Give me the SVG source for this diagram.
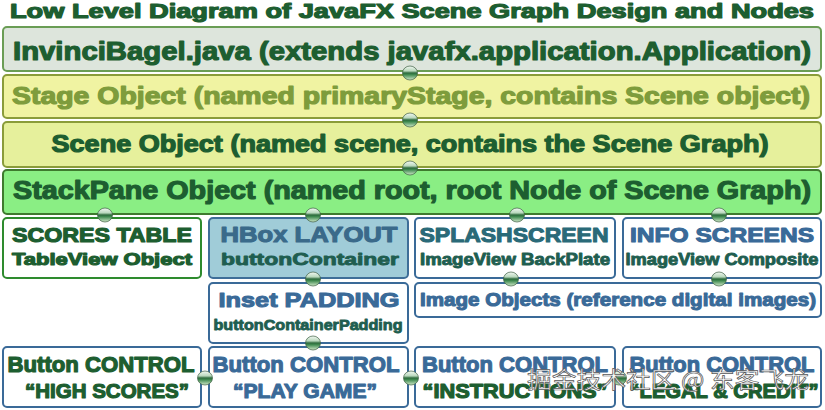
<svg xmlns="http://www.w3.org/2000/svg" width="825" height="410" viewBox="0 0 825 410">
<defs>
<linearGradient id="ball" x1="0" y1="0" x2="0" y2="1">
<stop offset="0" stop-color="#f2f8f2"/>
<stop offset="0.35" stop-color="#b9d8bd"/>
<stop offset="0.5" stop-color="#2d6b3c"/>
<stop offset="0.62" stop-color="#3f8a50"/>
<stop offset="1" stop-color="#cfe8c8"/>
</linearGradient>
<style>
text{font-family:"Liberation Sans",Arial,sans-serif;font-weight:bold;text-anchor:middle;stroke-linejoin:round}
.b{stroke-width:2;rx:4}
.dg{fill:#1d5e30;stroke:#1d5e30;stroke-width:1.2}
.bl{fill:#3a6a98;stroke:#3a6a98;stroke-width:1.1}
.ol{fill:#7e9c3c;stroke:#7e9c3c;stroke-width:1.2}
.tl{fill:#1f5e50;stroke:#1f5e50;stroke-width:0.9}
.wb{fill:#ffffff;stroke:#3a6a98}
.ball{fill:url(#ball);stroke:#3e5e44;stroke-width:0.7}
</style>
</defs>
<rect width="825" height="410" fill="#ffffff"/>
<text id="title" x="412" y="18" font-size="20" class="dg" textLength="804" lengthAdjust="spacingAndGlyphs">Low Level Diagram of JavaFX Scene Graph Design and Nodes</text>

<g id="invincibagel">
<rect class="b" x="3" y="27" width="818" height="44" fill="#dde5dc" stroke="#6a9d55"/>
<text x="412" y="60" font-size="26" class="dg" textLength="798" lengthAdjust="spacingAndGlyphs">InvinciBagel.java (extends javafx.application.Application)</text>
</g>
<g id="stage">
<rect class="b" x="3" y="75" width="818" height="43" fill="#f0f3a2" stroke="#8a9c3a"/>
<text x="411" y="104" font-size="24" class="ol" textLength="798" lengthAdjust="spacingAndGlyphs">Stage Object (named primaryStage, contains Scene object)</text>
</g>
<g id="scene">
<rect class="b" x="3" y="122" width="818" height="45" fill="#e6f09c" stroke="#8a9c3a"/>
<text x="410" y="152" font-size="23" class="dg" textLength="717" lengthAdjust="spacingAndGlyphs">Scene Object (named scene, contains the Scene Graph)</text>
</g>
<g id="stackpane">
<rect class="b" x="3" y="170" width="818" height="44" fill="#8aee84" stroke="#3e7a2e"/>
<text x="412" y="199" font-size="25" class="dg" textLength="798" lengthAdjust="spacingAndGlyphs">StackPane Object (named root, root Node of Scene Graph)</text>
</g>

<g id="scorestable">
<rect class="b" x="3" y="218" width="198" height="60" fill="#ffffff" stroke="#2e8b2e"/>
<text x="102" y="242" font-size="20" class="dg" textLength="180" lengthAdjust="spacingAndGlyphs">SCORES TABLE</text>
<text x="102" y="265" font-size="17" class="dg" textLength="180" lengthAdjust="spacingAndGlyphs">TableView Object</text>
</g>
<g id="hbox">
<rect class="b" x="209" y="218" width="199" height="60" fill="#a0ccd8" stroke="#3e6e98"/>
<text x="309" y="242" font-size="22" fill="#3a6a8a" stroke="#3a6a8a" stroke-width="1.1" textLength="177" lengthAdjust="spacingAndGlyphs">HBox LAYOUT</text>
<text x="310" y="265" font-size="17" class="tl" textLength="178" lengthAdjust="spacingAndGlyphs">buttonContainer</text>
</g>
<g id="splashscreen">
<rect class="b wb" x="415" y="218" width="200" height="60"/>
<text x="514" y="242" font-size="21" fill="#2a6a78" stroke="#2a6a78" stroke-width="1.1" textLength="189" lengthAdjust="spacingAndGlyphs">SPLASHSCREEN</text>
<text x="515" y="265" font-size="16" class="tl" textLength="190" lengthAdjust="spacingAndGlyphs">ImageView BackPlate</text>
</g>
<g id="infoscreens">
<rect class="b wb" x="623" y="218" width="198" height="60"/>
<text x="722" y="242" font-size="21" class="bl" textLength="184" lengthAdjust="spacingAndGlyphs">INFO SCREENS</text>
<text x="722" y="265" font-size="16" class="tl" textLength="193" lengthAdjust="spacingAndGlyphs">ImageView Composite</text>
</g>

<g id="insetpadding">
<rect class="b wb" x="209" y="283" width="199" height="60"/>
<text x="309" y="307" font-size="21" class="bl" textLength="181" lengthAdjust="spacingAndGlyphs">Inset PADDING</text>
<text x="308" y="330" font-size="15" class="tl" textLength="189" lengthAdjust="spacingAndGlyphs">buttonContainerPadding</text>
</g>
<g id="imageobjects">
<rect class="b wb" x="415" y="283" width="406" height="34"/>
<text x="618" y="306" font-size="19" class="bl" textLength="396" lengthAdjust="spacingAndGlyphs">Image Objects (reference digital images)</text>
</g>

<g id="btnhighscores">
<rect class="b wb" x="3" y="347" width="198" height="60"/>
<text x="101" y="372" font-size="22" class="dg" textLength="187" lengthAdjust="spacingAndGlyphs">Button CONTROL</text>
<text x="107" y="398" font-size="20" class="dg" textLength="164" lengthAdjust="spacingAndGlyphs">“HIGH SCORES”</text>
</g>
<g id="btnplaygame">
<rect class="b wb" x="209" y="347" width="199" height="60"/>
<text x="306" y="372" font-size="22" class="bl" textLength="187" lengthAdjust="spacingAndGlyphs">Button CONTROL</text>
<text x="305" y="398" font-size="20" class="bl" textLength="144" lengthAdjust="spacingAndGlyphs">“PLAY GAME”</text>
</g>
<g id="btninstructions">
<rect class="b wb" x="415" y="347" width="200" height="60"/>
<text x="515" y="372" font-size="22" class="bl" textLength="186" lengthAdjust="spacingAndGlyphs">Button CONTROL</text>
<text x="515" y="398" font-size="20" class="dg" textLength="185" lengthAdjust="spacingAndGlyphs">“INSTRUCTIONS”</text>
</g>
<g id="btnlegal">
<rect class="b wb" x="623" y="347" width="198" height="60"/>
<text x="722" y="372" font-size="22" class="bl" textLength="185" lengthAdjust="spacingAndGlyphs">Button CONTROL</text>
<text x="724" y="398" font-size="20" class="dg" textLength="189" lengthAdjust="spacingAndGlyphs">“LEGAL &amp; CREDIT”</text>
</g>

<g id="connectors">
<ellipse class="ball" cx="410" cy="73" rx="7.5" ry="7"/>
<ellipse class="ball" cx="410" cy="120" rx="7.5" ry="7"/>
<ellipse class="ball" cx="410" cy="168" rx="7.5" ry="7"/>
<ellipse class="ball" cx="105" cy="215" rx="7.5" ry="7"/>
<ellipse class="ball" cx="313" cy="215" rx="7.5" ry="7"/>
<ellipse class="ball" cx="517" cy="215" rx="7.5" ry="7"/>
<ellipse class="ball" cx="719" cy="215" rx="7.5" ry="7"/>
<ellipse class="ball" cx="313" cy="279" rx="7.5" ry="7"/>
<ellipse class="ball" cx="511" cy="279" rx="7.5" ry="7"/>
<ellipse class="ball" cx="719" cy="279" rx="7.5" ry="7"/>
<ellipse class="ball" cx="313" cy="343" rx="7.5" ry="7"/>
<ellipse class="ball" cx="205" cy="378" rx="7.5" ry="7"/>
<ellipse class="ball" cx="411" cy="378" rx="7.5" ry="7"/>
<ellipse class="ball" cx="619" cy="378" rx="7.5" ry="7"/>
</g>

<text id="watermark" x="668" y="388" font-size="23" style="font-family:'Noto Sans CJK SC',sans-serif;font-weight:normal" fill="#ffffff" fill-opacity="0.9" stroke="#555555" stroke-width="0.7" textLength="282" lengthAdjust="spacingAndGlyphs">掘金技术社区 @ 东客飞龙</text>
</svg>
